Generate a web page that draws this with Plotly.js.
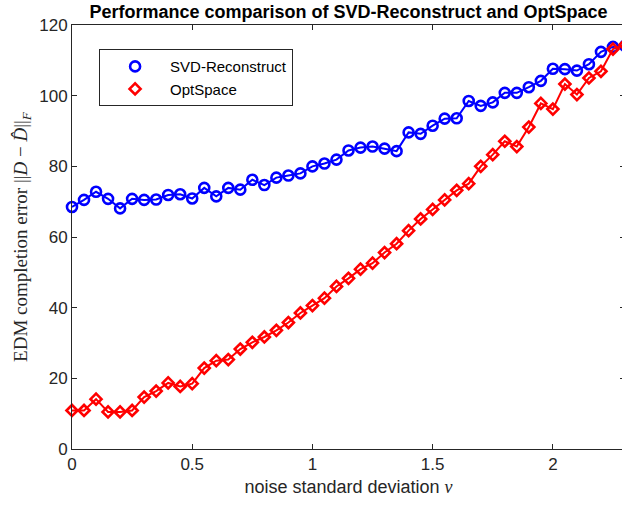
<!DOCTYPE html>
<html>
<head>
<meta charset="utf-8">
<script src="https://cdn.plot.ly/plotly-3.0.1.min.js"></script>
<style>html,body{margin:0;padding:0;background:#fff;overflow:hidden;width:622px;height:506px;}#chart{width:625px;height:506px;}</style>
</head>
<body>
<div id="chart"></div>
<script>
const noiseStd = [0, 0.05, 0.1, 0.15, 0.2, 0.25, 0.3, 0.35, 0.4, 0.45, 0.5, 0.55, 0.6, 0.65, 0.7, 0.75, 0.8, 0.85, 0.9, 0.95,
  1.0, 1.05, 1.1, 1.15, 1.2, 1.25, 1.3, 1.35, 1.4, 1.45, 1.5, 1.55, 1.6, 1.65, 1.7, 1.75, 1.8, 1.85, 1.9, 1.95,
  2.0, 2.05, 2.1, 2.15, 2.2, 2.25, 2.3];
const svdReconstruct = [68.5, 70.5, 72.8, 70.8, 68.1, 70.8, 70.5, 70.6, 71.9, 72.1, 70.9, 73.9, 71.5, 73.9, 73.4, 76.2, 74.7, 76.8, 77.4, 78.0,
  80.0, 80.8, 81.9, 84.5, 85.3, 85.6, 85.0, 84.3, 89.6, 89.2, 91.5, 93.5, 93.6, 98.5, 97.1, 98.1, 100.8, 100.8, 102.4, 104.2,
  107.6, 107.5, 107.1, 108.9, 112.4, 113.8, 114.1];
const optSpace = [10.9, 10.9, 14.1, 10.5, 10.5, 10.9, 14.7, 16.4, 18.7, 17.7, 18.5, 22.9, 25.0, 25.3, 28.3, 30.2, 31.7, 33.6, 35.8, 38.5,
  40.6, 42.7, 46.0, 48.3, 50.9, 52.6, 55.6, 58.1, 61.8, 65.1, 67.8, 70.5, 73.2, 75.1, 80.0, 83.3, 87.1, 85.6, 91.1, 97.8,
  96.2, 103.3, 100.3, 105.0, 106.9, 113.2, 114.4];
const seriesNames = ["SVD-Reconstruct", "OptSpace"];
const xTickVals = [0, 0.5, 1, 1.5, 2];
const xTickText = ["0", "0.5", "1", "1.5", "2"];
const yTickVals = [0, 20, 40, 60, 80, 100, 120];

const axisColor = "#262626";
const sans = "Liberation Sans, Arial, sans-serif";
const serif = "Liberation Serif, Times New Roman, serif";

const circleMarker = {symbol: "circle-open", size: 10, color: "#0000ff", line: {width: 2.6, color: "#0000ff"}};
const diamondMarker = {symbol: "diamond-open", size: 8.5, color: "#ff0000", line: {width: 2.6, color: "#ff0000"}};

const traces = [
  {x: noiseStd, y: svdReconstruct, name: seriesNames[0], mode: "lines+markers", showlegend: false,
   line: {color: "#0000ff", width: 2}, cliponaxis: false, marker: circleMarker},
  {x: noiseStd, y: optSpace, name: seriesNames[1], mode: "lines+markers", showlegend: false,
   line: {color: "#ff0000", width: 2}, cliponaxis: false, marker: diamondMarker},
  {x: [null], y: [null], name: seriesNames[0], mode: "markers", marker: circleMarker},
  {x: [null], y: [null], name: seriesNames[1], mode: "markers", marker: diamondMarker}
];

const layout = {
  width: 625, height: 506,
  margin: {l: 72, r: 0, t: 25, b: 57},
  paper_bgcolor: "#fff", plot_bgcolor: "#fff",
  font: {family: sans, color: axisColor, size: 17},
  title: {text: "<b>Performance comparison of SVD-Reconstruct and OptSpace</b>",
          font: {family: sans, size: 18, color: "#000"},
          x: 0.5, xref: "paper", xanchor: "center", y: 0.976, yref: "container", yanchor: "middle"},
  xaxis: {range: [0, 2.3], tickvals: xTickVals, ticktext: xTickText, ticks: "inside", ticklen: 5,
          tickcolor: axisColor, showline: true, linecolor: axisColor, linewidth: 1, mirror: "ticks",
          showgrid: false, zeroline: false, tickfont: {size: 17, color: axisColor},
          title: {text: "noise standard deviation <span style=\"font-family:Liberation Serif\"><i>ν</i></span>",
                  font: {size: 18, color: axisColor}, standoff: 6}},
  yaxis: {range: [0, 120], tickvals: yTickVals, ticks: "inside", ticklen: 5,
          tickcolor: axisColor, showline: true, linecolor: axisColor, linewidth: 1, mirror: "ticks",
          showgrid: false, zeroline: false, tickfont: {size: 17, color: axisColor},
          title: {text: "EDM completion error ||<i>D</i> − <i>D̂</i>||<sub><i>F</i></sub>",
                  font: {family: serif, size: 19, color: axisColor}, standoff: 6}},
  legend: {x: 0.049, y: 0.943, xanchor: "left", yanchor: "top", bgcolor: "#fff",
           bordercolor: axisColor, borderwidth: 1, font: {size: 15, color: "#000"}, itemwidth: 60},
  showlegend: true
};

Plotly.newPlot("chart", traces, layout, {staticPlot: true, displayModeBar: false});
</script>
</body>
</html>
